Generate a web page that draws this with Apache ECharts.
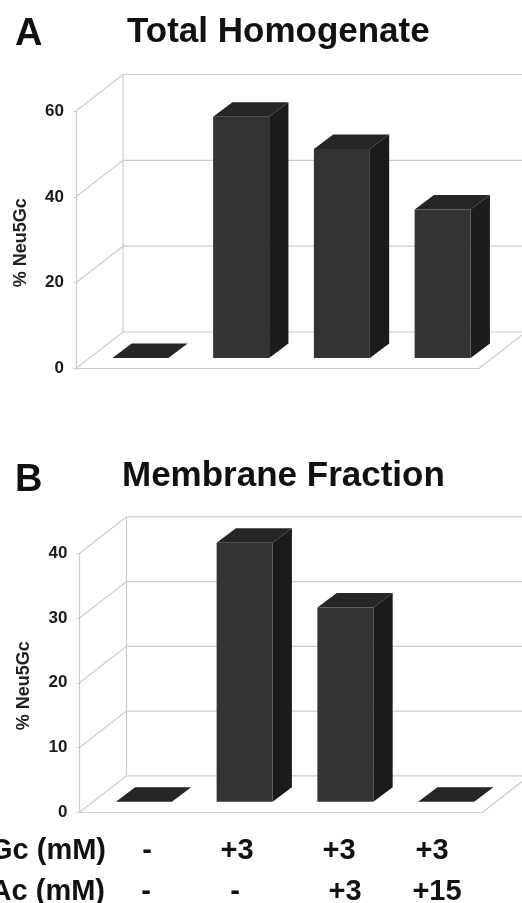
<!DOCTYPE html>
<html>
<head>
<meta charset="utf-8">
<style>html,body{margin:0;padding:0;background:#fff}#c{width:522px;height:903px}</style>
<script src="https://cdn.jsdelivr.net/npm/echarts@6/dist/echarts.min.js"></script>
</head>
<body>
<div id="c"></div>
<script>
const categories = ['-/-', '+3/-', '+3/+3', '+3/+15'];
const valuesA = [0, 56.2, 48.7, 34.6];
const valuesB = [0, 40, 30, 0];
const ticksA = [0, 20, 40, 60];
const ticksB = [0, 10, 20, 30, 40];
const titleA = 'Total Homogenate';
const titleB = 'Membrane Fraction';
const yName = '% Neu5Gc';
const rowLabels = ['Gc (mM)', 'Ac (mM)'];
const row1 = ['-', '+3', '+3', '+3'];
const row2 = ['-', '-', '+3', '+15'];

const FONT = '"Liberation Sans", Arial, sans-serif';
const WALL = '#cccccc';
const FRONT = '#333333', TOP = '#262626', SIDE = '#1b1b1b';
const WALL_DX = 47, WALL_DY = -36.5;   // depth of the chart box
const BASE_DX = 14, BASE_DY = -10.5;   // bar front face inset from box front
const BAR_DX = 19.3, BAR_DY = -14.5;   // bar depth
const BAR_W = 56;

function wallItem(params, api) {
  const cs = params.coordSys;
  const v = api.value(0);
  const y = api.coord([0, v])[1];
  const ln = { stroke: WALL, lineWidth: 1.2 };
  const x0 = cs.x, x1 = cs.x + cs.width;
  const kids = [{
    type: 'polyline',
    shape: { points: [[x0, y], [x0 + WALL_DX, y + WALL_DY], [x1 + WALL_DX, y + WALL_DY]] },
    style: { fill: null, ...ln }
  }];
  if (v === 0) {
    kids.push({ type: 'line', shape: { x1: x0 + WALL_DX, y1: y + WALL_DY, x2: x0 + WALL_DX, y2: cs.y + WALL_DY }, style: ln });
    kids.push({ type: 'line', shape: { x1: x1, y1: y, x2: x1 + WALL_DX, y2: y + WALL_DY }, style: ln });
  }
  return { type: 'group', children: kids };
}

function barItem(params, api) {
  const top = api.coord([api.value(0), api.value(1)]);
  const bot = api.coord([api.value(0), 0]);
  const l = top[0] - BAR_W / 2 + BASE_DX, r = l + BAR_W;
  const t = top[1] + BASE_DY, b = bot[1] + BASE_DY;
  const poly = (pts, c) => ({ type: 'polygon', shape: { points: pts }, style: { fill: c } });
  const kids = [];
  if (b - t > 0.5) {
    kids.push(poly([[r, t], [r + BAR_DX, t + BAR_DY], [r + BAR_DX, b + BAR_DY], [r, b]], SIDE));
    kids.push(poly([[l, t], [r, t], [r, b], [l, b]], FRONT));
  }
  kids.push(poly([[l, t], [l + BAR_DX, t + BAR_DY], [r + BAR_DX, t + BAR_DY], [r, t]], TOP));
  return { type: 'group', children: kids };
}

const grids = [
  { left: 76, top: 111, width: 403, height: 257.5, outerBoundsMode: 'none' },
  { left: 79.5, top: 553.3, width: 403, height: 259, outerBoundsMode: 'none' }
];

function yAxis(i, ticks) {
  return {
    type: 'value', gridIndex: i, min: 0, max: ticks[ticks.length - 1], interval: ticks[1] - ticks[0],
    name: yName, nameLocation: 'middle', nameGap: 46, nameRotate: 90,
    nameTextStyle: { fontFamily: FONT, fontWeight: 'bold', fontSize: 18, color: '#222', padding: [0, 6, 0, 0] },
    axisLine: { show: true, lineStyle: { color: WALL, width: 1.2 } },
    axisTick: { show: true, length: 3, lineStyle: { color: WALL } },
    axisLabel: { fontFamily: FONT, fontWeight: 'bold', fontSize: 17, color: '#1a1a1a', margin: 12 },
    splitLine: { show: false }
  };
}
function xAxis(i) {
  return {
    type: 'category', gridIndex: i, data: categories,
    axisLine: { show: true, lineStyle: { color: WALL, width: 1.2 } },
    axisTick: { show: false }, axisLabel: { show: false }
  };
}
function walls(i, ticks) {
  return { type: 'custom', xAxisIndex: i, yAxisIndex: i, z: 1, silent: true, renderItem: wallItem,
    encode: { y: 0 }, data: ticks.map(t => [t]) };
}
function bars(i, vals) {
  return { type: 'custom', xAxisIndex: i, yAxisIndex: i, z: 3, renderItem: barItem,
    encode: { x: 0, y: 1 }, data: vals.map((v, k) => [k, v]) };
}

const rowX1 = [147, 237, 339, 432];
const rowX2 = [146, 235, 345, 437];
const rowText = (s, x, y, size) => ({
  type: 'text', x, y,
  style: { text: s, font: 'bold ' + size + 'px ' + FONT, fill: '#111', textAlign: 'center', textVerticalAlign: 'middle' }
});
const rightText = (s, x, y, size) => ({
  type: 'text', x, y,
  style: { text: s, font: 'bold ' + size + 'px ' + FONT, fill: '#111', textAlign: 'right', textVerticalAlign: 'middle' }
});

const chart = echarts.init(document.getElementById('c'), null, { renderer: 'canvas' });
chart.setOption({
  animation: false,
  backgroundColor: '#ffffff',
  grid: grids,
  xAxis: [xAxis(0), xAxis(1)],
  yAxis: [yAxis(0, ticksA), yAxis(1, ticksB)],
  series: [walls(0, ticksA), bars(0, valuesA), walls(1, ticksB), bars(1, valuesB)],
  graphic: [
    { type: 'text', x: 15, y: 35, style: { text: 'A', font: 'bold 38px ' + FONT, fill: '#111', textVerticalAlign: 'middle' } },
    { type: 'text', x: 15, y: 481, style: { text: 'B', font: 'bold 38px ' + FONT, fill: '#111', textVerticalAlign: 'middle' } },
    { type: 'text', x: 127, y: 32, style: { text: titleA, font: 'bold 35px ' + FONT, fill: '#111', textVerticalAlign: 'middle' } },
    { type: 'text', x: 122, y: 476, style: { text: titleB, font: 'bold 35px ' + FONT, fill: '#111', textVerticalAlign: 'middle' } },
    rightText(rowLabels[0], 106, 851, 29),
    rightText(rowLabels[1], 105, 892, 29),
    ...row1.map((s, k) => rowText(s, rowX1[k], 851, 29)),
    ...row2.map((s, k) => rowText(s, rowX2[k], 892, 29))
  ]
});
</script>
</body>
</html>
